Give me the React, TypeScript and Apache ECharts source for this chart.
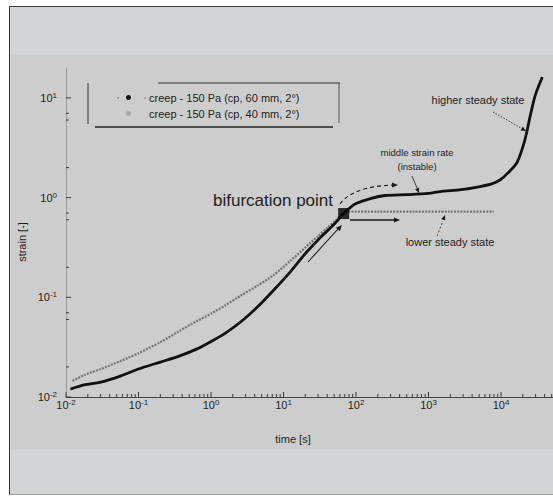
import React, { useEffect, useRef } from 'react';
import * as echarts from 'echarts';

// ---- data ----
const blackTime = [0.0115, 0.0178, 0.0302, 0.0562, 0.1, 0.2, 0.363, 0.631, 1.02, 1.58, 2.63, 4.47, 7.24, 12.6, 20, 29.5, 40.7, 52.5, 67.6, 83.2, 100, 158, 251, 501, 1000, 1445, 2818, 5129, 7586, 9772, 12589, 16596, 21380, 25119, 29512, 37154];
const blackStrain = [0.012, 0.0132, 0.0141, 0.0162, 0.0191, 0.0224, 0.0257, 0.0302, 0.0363, 0.0437, 0.0575, 0.0813, 0.117, 0.182, 0.275, 0.372, 0.468, 0.562, 0.692, 0.794, 0.871, 0.977, 1.05, 1.07, 1.1, 1.15, 1.2, 1.29, 1.38, 1.51, 1.78, 2.24, 3.8, 6.46, 10.5, 16.2];
const grayTime = [0.0123, 0.0178, 0.0302, 0.0562, 0.1, 0.2, 0.363, 0.631, 1.02, 1.58, 2.63, 4.47, 7.24, 12.6, 20, 29.5, 40.7, 52.5, 63.1, 79.4, 200, 631, 1995, 7943];
const grayStrain = [0.0145, 0.0166, 0.0191, 0.0229, 0.0275, 0.0355, 0.0457, 0.0575, 0.0692, 0.0832, 0.105, 0.132, 0.166, 0.234, 0.316, 0.407, 0.501, 0.589, 0.676, 0.724, 0.724, 0.724, 0.724, 0.724];
const bifurcationPoint = [67.6, 0.692];
const seriesNames = ['creep - 150 Pa (cp, 60 mm, 2°)', 'creep - 150 Pa (cp, 40 mm, 2°)'];
const xRange = [0.01, 100000];
const yRange = [0.01, 19.95];
const xMajorTicks = [0.01, 0.1, 1, 10, 100, 1000, 10000];
const yMajorTicks = [0.01, 0.1, 1, 10];
const xMinorMultipliers = [2, 3, 4, 5, 6, 7, 8, 9];
const yMinorMultipliers = [2, 6, 7];
const maxLabelExponent = 4;

const FONT = '"Liberation Sans", Arial, Helvetica, sans-serif';
const TEXT = '#1e1e1e';

function powerLabel(v: number): string {
  const e = Math.round(Math.log10(v));
  if (Math.abs(Math.log10(v) - e) > 1e-6) return '';
  if (e > maxLabelExponent) return '';
  return `{b|10}{s|${e}}`;
}

const labelRich = {
  b: { fontSize: 11, color: TEXT, fontFamily: FONT },
  s: { fontSize: 8, color: TEXT, fontFamily: FONT, padding: [0, 0, 5, 0] },
};

function arrowHead(tipX: number, tipY: number, fromX: number, fromY: number, size = 6, half = 2.6) {
  const dx = tipX - fromX;
  const dy = tipY - fromY;
  const len = Math.hypot(dx, dy) || 1;
  const ux = dx / len;
  const uy = dy / len;
  const bx = tipX - ux * size;
  const by = tipY - uy * size;
  return {
    type: 'polygon',
    shape: { points: [[tipX, tipY], [bx - uy * half, by + ux * half], [bx + uy * half, by - ux * half]] },
    style: { fill: '#1a1a1a' },
    silent: true,
    z: 10,
  };
}

function tickSeries(values: number[][], axis: 'x' | 'y', len: number) {
  return {
    type: 'custom',
    silent: true,
    z: 3,
    data: values,
    renderItem: (_p: any, api: any) => {
      const pt = api.coord([api.value(0), api.value(1)]);
      const shape = axis === 'x'
        ? { x1: pt[0], y1: pt[1], x2: pt[0], y2: pt[1] - len }
        : { x1: pt[0], y1: pt[1], x2: pt[0] + len, y2: pt[1] };
      return { type: 'line', shape, style: { stroke: '#3a3a3a', lineWidth: 1 } };
    },
  };
}

export default function App() {
  const ref = useRef<HTMLDivElement>(null);

  useEffect(() => {
    if (!ref.current) return;
    const chart = echarts.init(ref.current, undefined, { renderer: 'svg' });

    const xMinor = xMajorTicks.flatMap((d) => xMinorMultipliers.map((m) => d * m));
    const yMinor = yMajorTicks.slice(0, -1).flatMap((d) => yMinorMultipliers.map((m) => d * m));

    const blackData = blackTime.map((t, i) => [t, blackStrain[i]]);
    const grayData = grayTime.map((t, i) => [t, grayStrain[i]]);

    const textEl = (text: string, x: number, y: number, size: number, align = 'left', extra: any = {}) => ({
      type: 'text',
      silent: true,
      z: 10,
      x,
      y,
      ...extra,
      style: { text, fill: TEXT, fontSize: size, fontFamily: FONT, textAlign: align, textVerticalAlign: 'middle' },
    });
    const lineEl = (x1: number, y1: number, x2: number, y2: number, w = 1, dash?: number[], color = '#1a1a1a') => ({
      type: 'line',
      silent: true,
      z: 10,
      shape: { x1, y1, x2, y2 },
      style: { stroke: color, lineWidth: w, lineDash: dash },
    });

    const graphics: any[] = [
      // axis names
      textEl('strain [-]', 22, 242, 11, 'center', { rotation: Math.PI / 2 }),
      textEl('time [s]', 293, 439, 11, 'center'),
      // legend frame
      lineEl(88, 83, 88, 124, 1, undefined, '#333'),
      lineEl(158, 83, 340, 83, 1.2, undefined, '#333'),
      lineEl(339, 83, 339, 123, 1, undefined, '#555'),
      lineEl(95, 127, 333, 127, 1.6, undefined, '#222'),
      { type: 'circle', silent: true, z: 10, shape: { cx: 118, cy: 98, r: 0.8 }, style: { fill: '#888' } },
      { type: 'circle', silent: true, z: 10, shape: { cx: 145, cy: 98, r: 0.8 }, style: { fill: '#888' } },
      // bifurcation annotation
      textEl('bifurcation point', 213, 200, 17, 'left'),
      {
        type: 'bezierCurve', silent: true, z: 10,
        shape: { x1: 340, y1: 204, cpx1: 350, cpy1: 190, cpx2: 372, cpy2: 186, x2: 392, y2: 185 },
        style: { stroke: '#1a1a1a', lineWidth: 1.1, lineDash: [4, 3], fill: 'none' },
      },
      arrowHead(398, 185, 390, 185),
      lineEl(350, 220, 394, 220, 1.3),
      arrowHead(400, 220, 390, 220),
      lineEl(308, 262, 338, 229, 1.1),
      arrowHead(342, 225, 308, 262),
      // middle strain rate
      textEl('middle strain rate', 417, 152, 9.5, 'center'),
      textEl('(instable)', 417, 166, 9.5, 'center'),
      lineEl(412, 176, 417, 188, 0.8),
      arrowHead(419, 193, 412, 176, 5, 2.2),
      // lower steady state
      textEl('lower steady state', 450, 242, 11, 'center'),
      lineEl(437, 236, 443, 221, 0.8, [2, 2]),
      arrowHead(445, 215, 437, 236, 5, 2.2),
      // higher steady state
      textEl('higher steady state', 478, 100, 11, 'center'),
      lineEl(493, 112, 521, 128, 0.8, [1.5, 1.5]),
      arrowHead(526, 131, 493, 112, 5, 2.2),
    ];

    chart.setOption({
      animation: false,
      backgroundColor: 'transparent',
      textStyle: { fontFamily: FONT },
      grid: { left: 66, top: 68, right: -20.5, bottom: 100, containLabel: false, outerBoundsMode: 'none' },
      xAxis: {
        type: 'log',
        logBase: 10,
        min: xRange[0],
        max: xRange[1],
        axisLine: { lineStyle: { color: '#454545', width: 1 } },
        axisTick: { show: false },
        minorTick: { show: false },
        splitLine: { show: false },
        axisLabel: { margin: 1, formatter: powerLabel, rich: labelRich },
      },
      yAxis: {
        type: 'log',
        logBase: 10,
        min: yRange[0],
        max: yRange[1],
        axisLine: { lineStyle: { color: '#9a9a9a', width: 1 } },
        axisTick: { show: false },
        minorTick: { show: false },
        splitLine: { show: false },
        axisLabel: { margin: 9, formatter: powerLabel, rich: labelRich },
      },
      legend: {
        left: 126,
        top: 92,
        orient: 'vertical',
        itemWidth: 5,
        itemHeight: 5,
        itemGap: 5,
        icon: 'circle',
        padding: 0,
        selectedMode: false,
        formatter: (n: string) => `{a|${n}}`,
        textStyle: {
          color: TEXT,
          fontSize: 11,
          fontFamily: FONT,
          rich: { a: { fontSize: 11, color: TEXT, fontFamily: FONT, padding: [0, 0, 0, 13] } },
        },
        data: [
          { name: seriesNames[0], itemStyle: { color: '#111' } },
          { name: seriesNames[1], itemStyle: { color: '#a6a6a6' } },
        ],
      },
      series: [
        tickSeries(xMajorTicks.map((v) => [v, yRange[0]]), 'x', 5),
        tickSeries(xMinor.map((v) => [v, yRange[0]]), 'x', 3),
        tickSeries(yMajorTicks.map((v) => [xRange[0], v]), 'y', 5),
        tickSeries(yMinor.map((v) => [xRange[0], v]), 'y', 3),
        {
          name: seriesNames[1],
          type: 'line',
          data: grayData,
          symbol: 'none',
          smooth: 0.25,
          z: 4,
          lineStyle: { color: '#767676', width: 2.3, type: [2, 1.2] },
          itemStyle: { color: '#a6a6a6' },
        },
        {
          name: seriesNames[0],
          type: 'line',
          data: blackData,
          symbol: 'none',
          smooth: 0.25,
          z: 5,
          lineStyle: { color: '#111', width: 2.8 },
          itemStyle: { color: '#111' },
        },
        {
          name: 'bifurcation point',
          type: 'scatter',
          data: [bifurcationPoint],
          symbol: 'rect',
          symbolSize: 11,
          z: 6,
          itemStyle: { color: '#000' },
        },
      ],
      graphic: graphics,
    });

    return () => chart.dispose();
  }, []);

  return (
    <div style={{ position: 'absolute', left: 0, top: 0, width: 553, height: 497, background: '#ffffff', overflow: 'hidden' }}>
      <div
        style={{
          position: 'absolute', left: 9, top: 6, width: 560, height: 489, boxSizing: 'border-box',
          background: '#d3d4d6', borderLeft: '1.5px solid #3a3a3a', borderTop: '1.5px solid #3a3a3a',
          borderBottom: '1px solid #a0a0a0',
        }}
      />
      <div style={{ position: 'absolute', left: 10.5, top: 55, width: 560, height: 394, background: '#cdcdcd' }} />
      <div ref={ref} style={{ position: 'absolute', left: 0, top: 0, width: 553, height: 497 }} />
    </div>
  );
}
